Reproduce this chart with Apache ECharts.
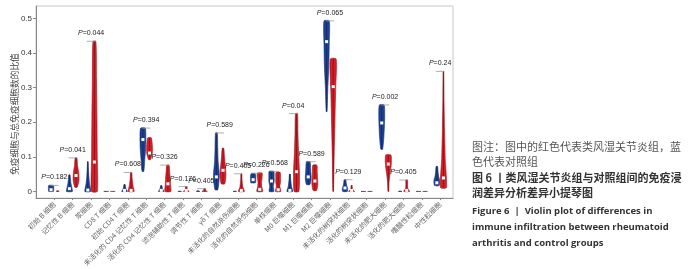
<!DOCTYPE html>
<html><head><meta charset="utf-8">
<script src="https://cdn.jsdelivr.net/npm/echarts@6/dist/echarts.min.js"></script>
<style>html,body{margin:0;padding:0;background:#fff}#c{width:700px;height:269px}</style>
</head><body><div id="c"></div>
<script>
const categories = ['初始 B 细胞','记忆性 B 细胞','浆细胞','CD8 T 细胞','初始 CD4 T 细胞','未活化的 CD4 记忆性 T 细胞','活化的 CD4 记忆性 T 细胞','滤泡辅助性 T 细胞','调节性 T 细胞','γδ T 细胞','未活化的自然杀伤细胞','活化的自然杀伤细胞','单核细胞','M0 巨噬细胞','M1 巨噬细胞','M2 巨噬细胞','未活化的树突状细胞','活化的树突状细胞','未活化的肥大细胞','活化的肥大细胞','嗜酸性粒细胞','中性粒细胞'];
const pLabels = ['0.182','0.041','0.044',null,'0.608','0.394','0.326','0.176','0.405','0.589','0.405','0.226','0.568','0.04','0.589','0.065','0.129',null,'0.002','0.405',null,'0.24'];
const yTicks = [0, 0.1, 0.2, 0.3, 0.4, 0.5];
const yName = '免疫细胞与总免疫细胞数的比值';

// control group (blue)
const ctrlMin = [0,0,0,0,0,0.058,0,0,0,0.005,0,0.025,0,0,0.02,0.231,0,0,0.122,0,0,0.017];
const ctrlMax = [0.0175,0.048,0.086,0,0.02,0.183,0.017,0.001,0.002,0.169,0.001,0.051,0.058,0.05,0.086,0.493,0.034,0,0.25,0.001,0,0.072];
const ctrlMed = [0.005,0.008,0.004,0,0.003,0.15,0.003,0,0,0.042,0,0.034,0.03,0.003,0.042,0.433,0.01,0,0.198,0,0,0.025];
const ctrlShape = [
 [0.8,0.9,0.9,0.9,0.8],[1,0.8,0.5,0.35,0.2],[1,0.6,0.35,0.2,0.1],[0.8,0.8,0.8,0.8,0.8],[1,0.6,0.4,0.3,0.2],
 [0.3,0.6,0.9,1,0.8],[1,0.6,0.4,0.3,0.2],[0.6,0.5,0.4,0.3,0.2],[0.6,0.5,0.4,0.3,0.2],[0.5,1,0.6,0.45,0.3],
 [0.6,0.5,0.4,0.3,0.2],[0.8,0.9,0.9,0.9,0.7],[0.8,0.6,0.9,0.9,0.8],[1,0.6,0.4,0.25,0.15],[0.6,1,0.9,0.8,0.6],
 [0.15,0.4,0.75,0.9,0.9],[0.8,0.9,0.6,0.4,0.3],[0.8,0.8,0.8,0.8,0.8],[0.3,0.7,0.9,1,0.8],[0.6,0.5,0.4,0.3,0.2],
 [0.8,0.8,0.8,0.8,0.8],[0.8,1,0.6,0.4,0.25]];
// rheumatoid arthritis group (red)
const raMin = [0,0.012,0,0,0,0.092,0,0,0,0.022,0,0,0,0,0.003,0,0,0,0,0,0,0.011];
const raMax = [0.002,0.097,0.434,0,0.055,0.155,0.076,0.014,0.008,0.125,0.051,0.053,0.055,0.225,0.076,0.383,0.017,0,0.105,0.033,0,0.347];
const raMed = [0.001,0.046,0.085,0,0.003,0.111,0.022,0.003,0.002,0.061,0.003,0.006,0.005,0.057,0.03,0.303,0.003,0,0.079,0.003,0,0.039];
const raShape = [
 [0.5,0.5,0.4,0.3,0.2],[0.4,1,0.9,0.5,0.3],[1,0.95,0.85,0.7,0.5],[0.8,0.8,0.8,0.8,0.8],[1,0.7,0.45,0.3,0.2],
 [0.3,0.9,1,0.9,0.6],[1,0.9,0.8,0.6,0.4],[1,0.5,0.3,0.3,0.3],[0.9,0.5,0.3,0.3,0.3],[0.6,1,0.8,0.5,0.25],
 [1,0.5,0.3,0.2,0.15],[1,0.7,0.6,0.8,0.8],[0.9,0.6,0.8,0.8,0.7],[0.8,1,0.7,0.5,0.35],[0.6,1,0.9,0.8,0.7],
 [0.1,0.3,0.55,0.8,1],[1,0.5,0.3,0.2,0.2],[0.8,0.8,0.8,0.8,0.8],[0.1,0.25,0.6,1,0.9],[1,0.4,0.3,0.3,0.3],
 [0.8,0.8,0.8,0.8,0.8],[1,0.6,0.35,0.2,0.1]];

const captionZh = ['图注：图中的红色代表类风湿关节炎组，蓝','色代表对照组','图 6 丨类风湿关节炎组与对照组间的免疫浸','润差异分析差异小提琴图'];
const captionEn = ['Figure 6  |  Violin plot of differences in','immune infiltration between rheumatoid','arthritis and control groups'];

const OFFSET = 0.18, HALF = 0.16;
const COLORS = [{fill:'#1d4293', line:'#122d6e'}, {fill:'#d61f28', line:'#9a1016'}];

const violinData = [];
categories.forEach((c, i) => { violinData.push([i, 0]); violinData.push([i, 1]); });

function violinItem(params, api) {
  const i = api.value(0), g = api.value(1);
  const lo = g ? raMin[i] : ctrlMin[i];
  const hi = g ? raMax[i] : ctrlMax[i];
  const med = g ? raMed[i] : ctrlMed[i];
  const prof = g ? raShape[i] : ctrlShape[i];
  const xc = i + (g ? OFFSET : -OFFSET);
  const hw = api.size([HALF, 0])[0];
  const left = [], right = [];
  const n = prof.length;
  for (let k = 0; k < n; k++) {
    const p = api.coord([xc, lo + (hi - lo) * k / (n - 1)]);
    left.push([p[0] - prof[k] * hw, p[1]]);
    right.unshift([p[0] + prof[k] * hw, p[1]]);
  }
  const pts = left.concat(right);
  const pLo = api.coord([xc, lo]), pHi = api.coord([xc, hi]), pMed = api.coord([xc, med]);
  const col = COLORS[g];
  const children = [
    {type:'polygon', shape:{points:pts, smooth:0.2}, style:{fill:col.fill, stroke:col.line, lineWidth:0.6}},
    {type:'line', shape:{x1:pLo[0], y1:pLo[1], x2:pHi[0], y2:pHi[1]}, style:{stroke:col.line, lineWidth:1}}
  ];
  if (hi - lo > 0.012) {
    children.push({type:'rect', shape:{x:pMed[0]-1.5, y:pMed[1]-1.5, width:3, height:3}, style:{fill:'#fff'}});
  }
  return {type:'group', children};
}

const pData = [];
categories.forEach((c, i) => { if (pLabels[i]) pData.push([i]); });
function pItem(params, api) {
  const i = api.value(0);
  const top = Math.max(ctrlMax[i], raMax[i]);
  const a = api.coord([i - OFFSET - 0.05, top]), b = api.coord([i + OFFSET + 0.05, top]);
  const c = api.coord([i, top]);
  return {type:'group', children:[
    {type:'line', shape:{x1:a[0], y1:a[1], x2:b[0], y2:b[1]}, style:{stroke:'#999', lineWidth:0.8}},
    {type:'text', x:c[0], y:c[1]-8, style:{text:'{i|P}=' + pLabels[i], rich:{i:{fontStyle:'italic', fontSize:7, fontFamily:'Liberation Sans', fill:'#222'}}, fontSize:7, fontFamily:'Liberation Sans', fill:'#222', align:'center', verticalAlign:'middle'}}
  ]};
}

const chart = echarts.init(document.getElementById('c'), null, {renderer:'canvas'});
const graphics = [
  {type:'text', x:15, y:114, rotation:Math.PI/2, style:{text:yName, fontSize:8.7, fontFamily:'Noto Sans CJK SC', fill:'#444', align:'center', verticalAlign:'middle'}}
];
captionZh.forEach((t, k) => graphics.push({type:'text', left:472, top:[141,156,172,187][k], style:{text:t, fontSize:11, fontFamily:'Noto Sans CJK SC', fill: k < 2 ? '#555' : '#333', fontWeight: k < 2 ? 'normal' : 'bold'}}));
captionEn.forEach((t, k) => graphics.push({type:'text', left:472, top:[206,222,238][k], style:{text:t, fontSize:9.5, fontFamily:'Open Sans', fontWeight:'bold', fill:'#333'}}));

chart.setOption({
  animation:false,
  grid:{left:36, right:247, top:6, bottom:63, show:true, borderColor:'#c8c8c8', borderWidth:1},
  xAxis:{type:'value', min:-1, max:21.7, splitLine:{show:false},
    axisLine:{show:true, onZero:false, lineStyle:{color:'#888'}},
    axisTick:{show:true, length:2, customValues:categories.map((c,i)=>i), lineStyle:{color:'#888'}},
    axisLabel:{customValues:categories.map((c,i)=>i), formatter:v=>categories[Math.round(v)], rotate:45, fontSize:7, color:'#666', margin:5, fontFamily:'Noto Sans CJK SC'}},
  yAxis:{type:'value', min:-0.0194, max:0.536, splitLine:{show:false},
    axisLine:{show:true, onZero:false, lineStyle:{color:'#888'}},
    axisTick:{show:true, length:3, customValues:yTicks, lineStyle:{color:'#888'}},
    axisLabel:{customValues:yTicks, formatter:v=>String(v), fontSize:8, color:'#333', margin:4, fontFamily:'Liberation Sans'}},
  series:[
    {type:'custom', renderItem:violinItem, data:violinData, encode:{x:0, y:1}, clip:false},
    {type:'custom', renderItem:pItem, data:pData, encode:{x:0}, clip:false, z:3}
  ],
  graphic:graphics
});
</script></body></html>
